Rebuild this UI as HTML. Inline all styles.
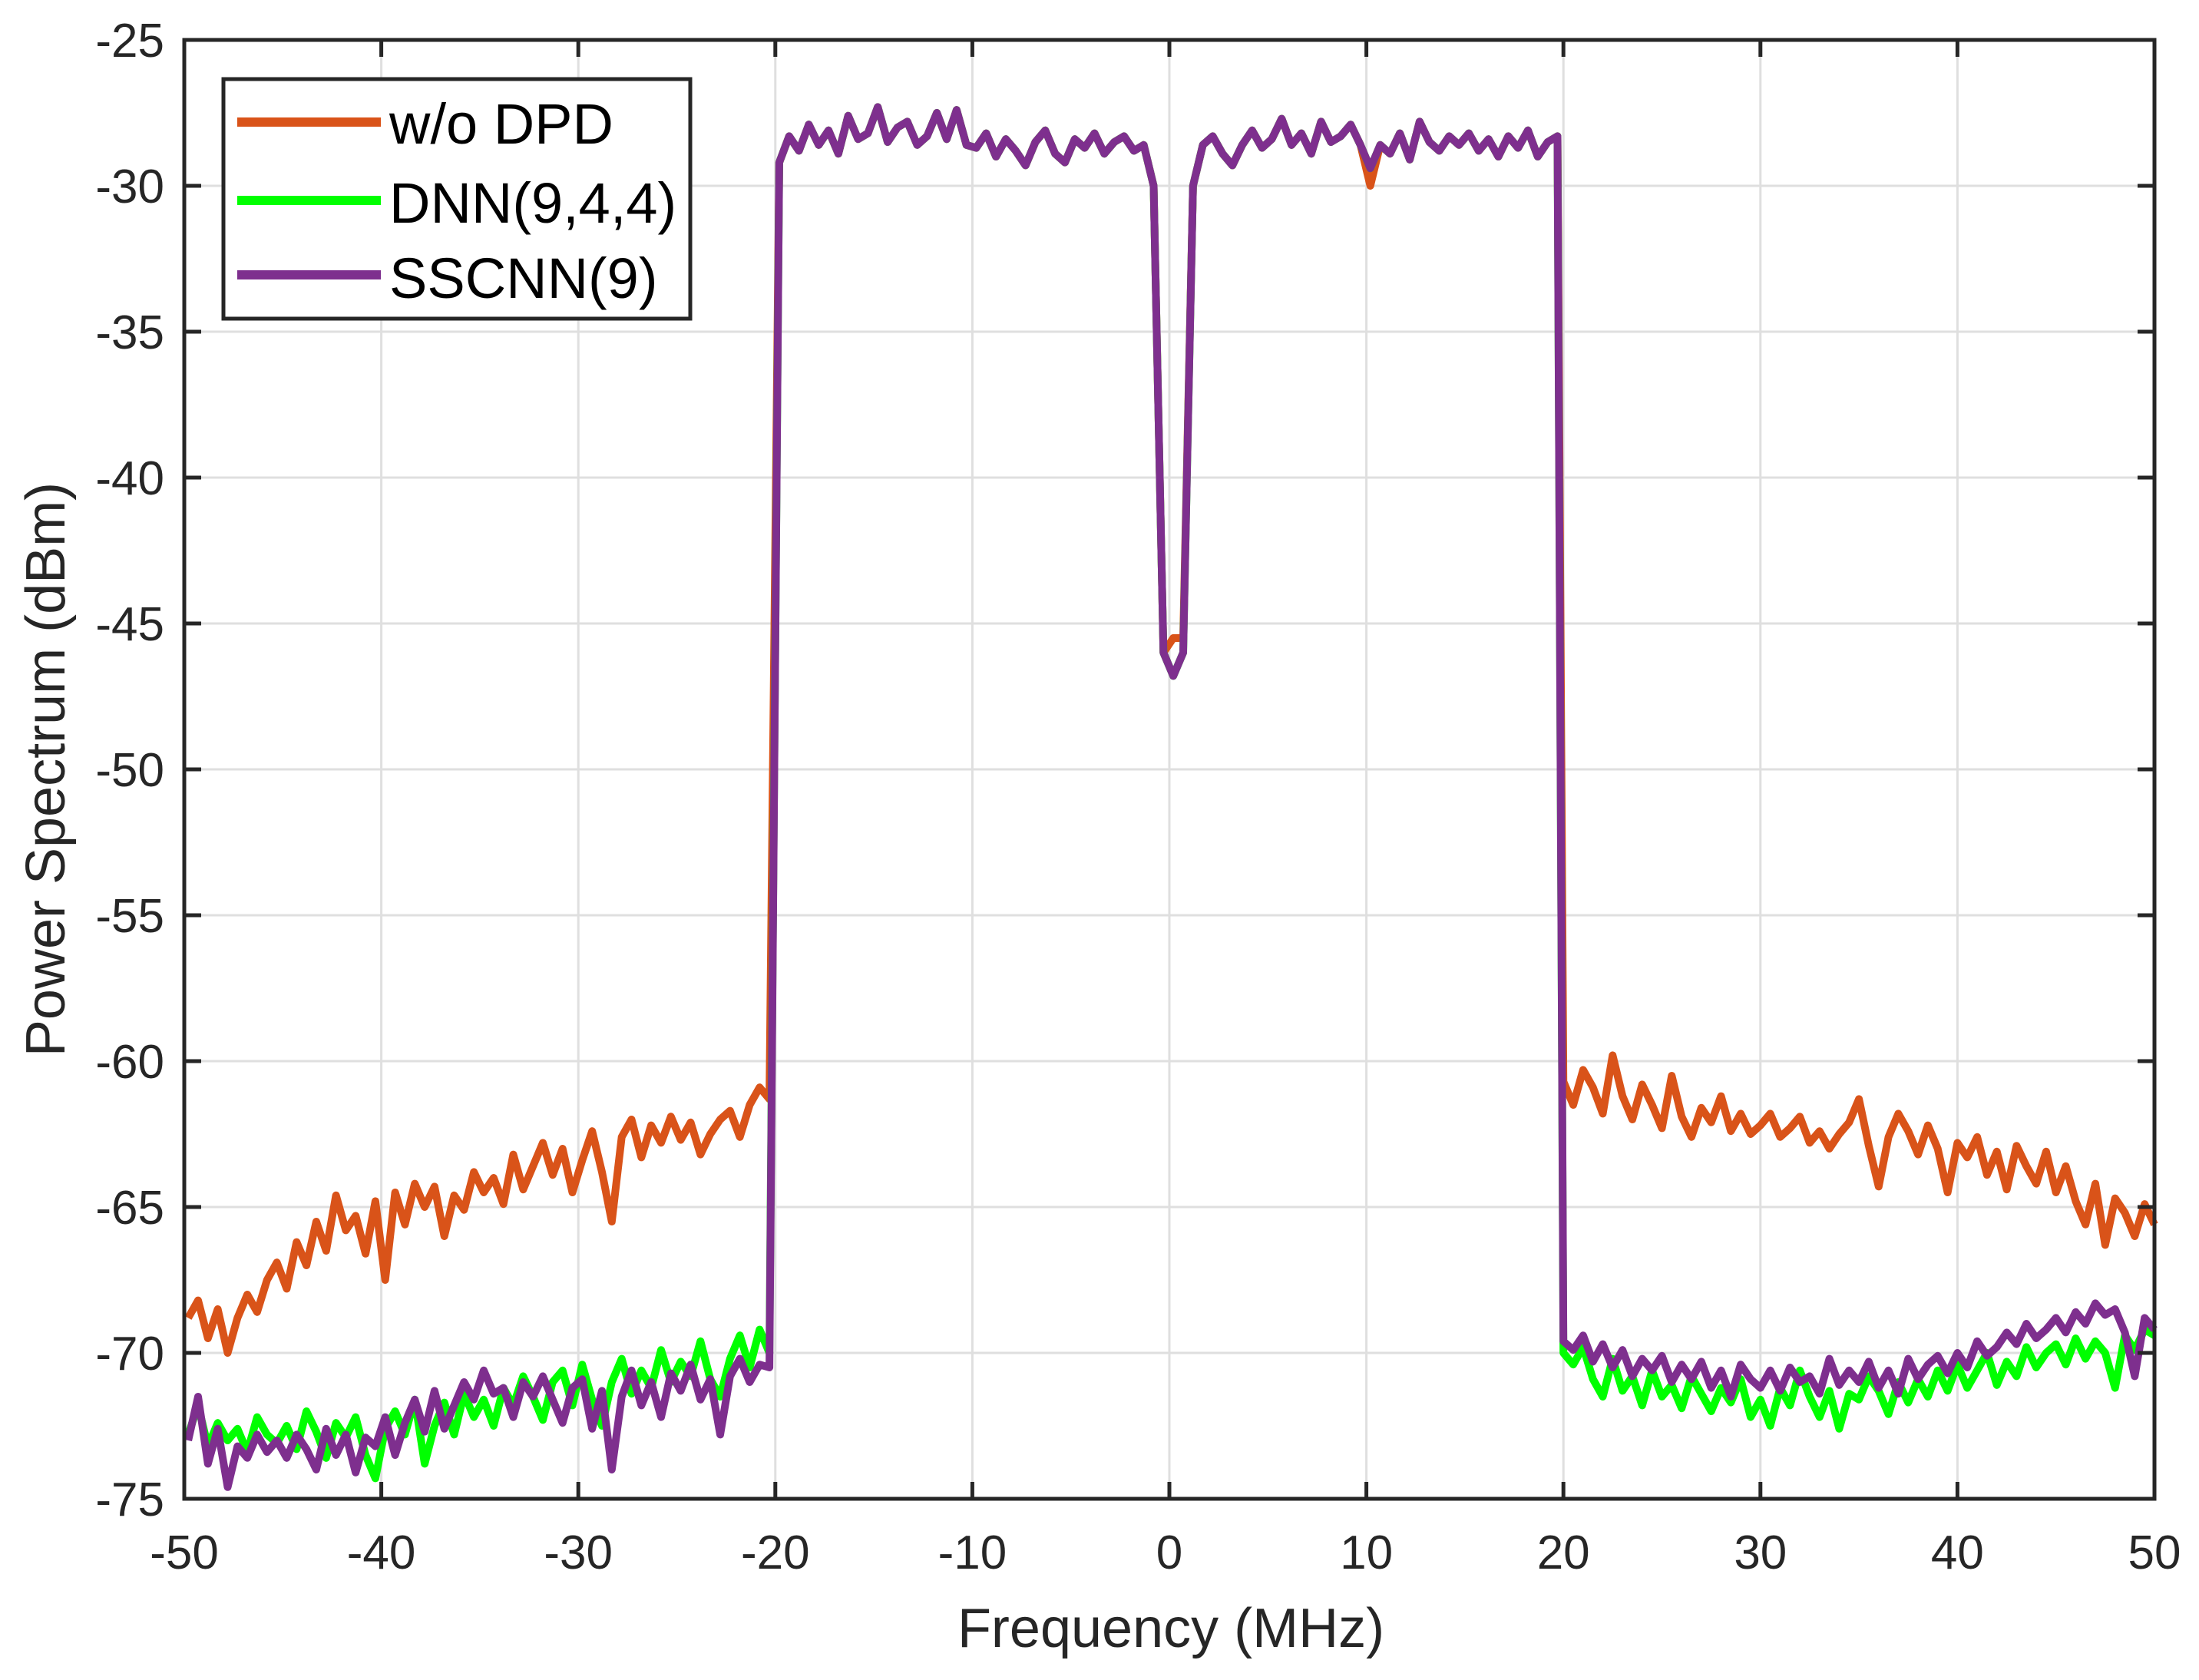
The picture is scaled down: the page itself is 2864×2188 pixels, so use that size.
<!DOCTYPE html>
<html><head><meta charset="utf-8"><style>
html,body{margin:0;padding:0;background:#fff;}
svg{display:block;font-family:"Liberation Sans",Arial,sans-serif;}
</style></head><body>
<svg id="chart" width="2864" height="2188" viewBox="0 0 2864 2188" xmlns="http://www.w3.org/2000/svg">
<rect x="0" y="0" width="2864" height="2188" fill="#fff"/>
<g id="grid"></g>
<g id="series"></g>
<g id="axes"></g>
<text x="1525" y="2145" font-size="72" text-anchor="middle" fill="#262626">Frequency (MHz)</text>
<text transform="translate(84,1002) rotate(-90)" font-size="72" text-anchor="middle" fill="#262626">Power Spectrum (dBm)</text>
<g>
<rect x="291" y="103" width="608" height="312" fill="#fff" stroke="#262626" stroke-width="5"/>
<line x1="309" y1="159" x2="496" y2="159" stroke="#D95319" stroke-width="12"/>
<text x="507" y="187" font-size="74" fill="#000">w/o DPD</text>
<line x1="309" y1="261" x2="496" y2="261" stroke="#00FF00" stroke-width="12"/>
<text x="507" y="290" font-size="74" fill="#000">DNN(9,4,4)</text>
<line x1="309" y1="358" x2="496" y2="358" stroke="#7E2F8E" stroke-width="12"/>
<text x="507" y="388" font-size="74" fill="#000">SSCNN(9)</text>
</g>
</svg>
<script>
const xTicks = [-50,-40,-30,-20,-10,0,10,20,30,40,50];
const yTicks = [-25,-30,-35,-40,-45,-50,-55,-60,-65,-70,-75];
const segStarts = [-49.8, -19.8, 20];
const freqStep = 0.5;
const inBand = [-29.2,-28.3,-28.8,-27.9,-28.6,-28.1,-28.9,-27.6,-28.4,-28.2,
-27.3,-28.5,-28,-27.8,-28.6,-28.3,-27.5,-28.4,-27.4,-28.6,
-28.7,-28.2,-29,-28.4,-28.8,-29.3,-28.5,-28.1,-28.9,-29.2,
-28.4,-28.7,-28.2,-28.9,-28.5,-28.3,-28.8,-28.6,-30,-46,
-46.8,-46,-30,-28.6,-28.3,-28.9,-29.3,-28.6,-28.1,-28.7,
-28.4,-27.7,-28.6,-28.2,-28.9,-27.8,-28.5,-28.3,-27.9,-28.6,
-29.4,-28.6,-28.9,-28.2,-29.1,-27.8,-28.5,-28.8,-28.3,-28.6,
-28.2,-28.8,-28.4,-29,-28.3,-28.7,-28.1,-29,-28.5,-28.3];
const inBandOrange = inBand.map((v,i)=> i===40||i===41 ? -45.5 : (i===60 ? -30 : v));
const woDpdLeft = [-68.8,-68.2,-69.5,-68.5,-70,-68.8,-68,-68.6,-67.5,-66.9,
-67.8,-66.2,-67,-65.5,-66.5,-64.6,-65.8,-65.3,-66.6,-64.8,
-67.5,-64.5,-65.6,-64.2,-65,-64.3,-66,-64.6,-65.1,-63.8,
-64.5,-64,-64.9,-63.2,-64.4,-63.6,-62.8,-63.9,-63,-64.5,
-63.4,-62.4,-63.8,-65.5,-62.6,-62,-63.3,-62.2,-62.8,-61.9,
-62.7,-62.1,-63.2,-62.5,-62,-61.7,-62.6,-61.5,-60.9,-61.3];
const woDpdRight = [-60.7,-61.5,-60.3,-60.9,-61.8,-59.8,-61.2,-62,-60.8,-61.5,
-62.3,-60.5,-61.9,-62.6,-61.6,-62.1,-61.2,-62.4,-61.8,-62.5,
-62.2,-61.8,-62.6,-62.3,-61.9,-62.8,-62.4,-63,-62.5,-62.1,
-61.3,-62.9,-64.3,-62.6,-61.8,-62.4,-63.2,-62.2,-63,-64.5,
-62.8,-63.3,-62.6,-63.9,-63.1,-64.4,-62.9,-63.6,-64.2,-63.1,
-64.5,-63.6,-64.8,-65.6,-64.2,-66.3,-64.7,-65.2,-66,-64.9,-65.6];
const dnnLeft = [-72.8,-71.8,-73.2,-72.4,-73,-72.6,-73.4,-72.2,-72.8,-73.1,
-72.5,-73.3,-72,-72.7,-73.6,-72.4,-72.9,-72.2,-73.5,-74.3,
-72.6,-72,-72.8,-71.6,-73.8,-72.5,-71.7,-72.8,-71.4,-72.2,
-71.6,-72.5,-71.2,-71.8,-70.8,-71.5,-72.3,-71,-70.6,-71.8,
-70.4,-71.6,-72.5,-71,-70.2,-71.4,-70.6,-71.2,-69.9,-71,
-70.3,-70.8,-69.6,-70.9,-71.5,-70.2,-69.4,-70.5,-69.2,-70];
const dnnRight = [-70,-70.4,-69.8,-70.9,-71.5,-70.2,-71.3,-70.8,-71.8,-70.6,
-71.5,-71.1,-71.9,-70.8,-71.4,-72,-71.2,-71.7,-70.9,-72.2,
-71.6,-72.5,-71.2,-71.8,-70.6,-71.5,-72.2,-71.3,-72.6,-71.4,
-71.6,-70.8,-71.3,-72.1,-71,-71.7,-70.9,-71.5,-70.6,-71.3,
-70.4,-71.2,-70.6,-70,-71.1,-70.3,-70.8,-69.8,-70.5,-70,
-69.7,-70.4,-69.5,-70.2,-69.6,-70,-71.2,-69.4,-69.9,-69.2,-69.4];
const sscnnLeft = [-73,-71.5,-73.8,-72.6,-74.6,-73.2,-73.6,-72.8,-73.4,-73,
-73.6,-72.8,-73.3,-74,-72.6,-73.5,-72.8,-74.1,-72.9,-73.2,
-72.2,-73.5,-72.4,-71.6,-72.7,-71.3,-72.6,-71.8,-71,-71.6,
-70.6,-71.4,-71.2,-72.2,-71,-71.5,-70.8,-71.6,-72.4,-71.2,
-70.9,-72.6,-71.3,-74,-71.5,-70.6,-71.8,-71,-72.2,-70.7,
-71.3,-70.4,-71.6,-70.9,-72.8,-70.8,-70.2,-71,-70.4,-70.5];
const sscnnRight = [-69.6,-69.9,-69.4,-70.3,-69.7,-70.5,-69.9,-70.8,-70.2,-70.6,
-70.1,-71,-70.4,-70.9,-70.3,-71.2,-70.6,-71.5,-70.4,-70.9,
-71.2,-70.6,-71.3,-70.5,-71,-70.8,-71.4,-70.2,-71.1,-70.6,
-71,-70.3,-71.2,-70.6,-71.4,-70.2,-70.9,-70.4,-70.1,-70.7,
-70,-70.5,-69.6,-70.1,-69.8,-69.3,-69.7,-69,-69.5,-69.2,
-68.8,-69.3,-68.6,-69,-68.3,-68.7,-68.5,-69.3,-70.8,-68.8,-69.2];

const NS='http://www.w3.org/2000/svg';
const L=240,R=2806,T=52,B=1952;
const xMin=-50,xMax=50,yMin=-75,yMax=-25;
function xs(v){return L+(v-xMin)/(xMax-xMin)*(R-L);}
function ys(v){return B-(v-yMin)/(yMax-yMin)*(B-T);}
function mk(tag,parent,attrs){const e=document.createElementNS(NS,tag);for(const k in attrs)e.setAttribute(k,attrs[k]);parent.appendChild(e);return e;}

const grid=document.getElementById('grid');
const axes=document.getElementById('axes');
xTicks.forEach(t=>{
  const g=mk('line',grid,{x1:xs(t),x2:xs(t),y1:T,y2:B,stroke:'#dfdfdf','stroke-width':3});
  
  
  const tk=mk('line',axes,{x1:xs(t),x2:xs(t),y1:B,y2:B-22,stroke:'#262626','stroke-width':5});
  
  
  const tk2=mk('line',axes,{x1:xs(t),x2:xs(t),y1:T,y2:T+22,stroke:'#262626','stroke-width':5});
  
  
  const lb=mk('text',axes,{x:xs(t),y:2043,'font-size':62,'text-anchor':'middle',fill:'#262626'});
  lb.textContent=String(t);
  
  
});
yTicks.forEach(t=>{
  const g=mk('line',grid,{x1:L,x2:R,y1:ys(t),y2:ys(t),stroke:'#dfdfdf','stroke-width':3});
  
  
  const tk=mk('line',axes,{x1:L,x2:L+22,y1:ys(t),y2:ys(t),stroke:'#262626','stroke-width':5});
  
  
  const tk2=mk('line',axes,{x1:R,x2:R-22,y1:ys(t),y2:ys(t),stroke:'#262626','stroke-width':5});
  
  
  const lb=mk('text',axes,{x:214,y:ys(t)+22,'font-size':62,'text-anchor':'end',fill:'#262626'});
  lb.textContent=String(t);
  
  
});
const frame=mk('rect',axes,{x:L,y:T,width:R-L,height:B-T,fill:'none',stroke:'#262626','stroke-width':5});



function build(segs){
  const pts=[];
  segs.forEach((arr,si)=>arr.forEach((v,i)=>pts.push([segStarts[si]+i*freqStep,v])));
  return pts;
}
const seriesList=[
  {name:'series-wo-dpd',color:'#D95319',pts:build([woDpdLeft,inBandOrange,woDpdRight])},
  {name:'series-dnn',color:'#00FF00',pts:build([dnnLeft,inBand,dnnRight])},
  {name:'series-sscnn',color:'#7E2F8E',pts:build([sscnnLeft,inBand,sscnnRight])}
];
const sg=document.getElementById('series');
seriesList.forEach(s=>{
  const d=s.pts.map((p,i)=>(i?'L':'M')+xs(Math.max(xMin,Math.min(xMax,p[0]))).toFixed(1)+' '+ys(p[1]).toFixed(1)).join(' ');
  const p=mk('path',sg,{d:d,fill:'none',stroke:s.color,'stroke-width':10,'stroke-linejoin':'round'});
  
  
});
</script>
</body></html>
